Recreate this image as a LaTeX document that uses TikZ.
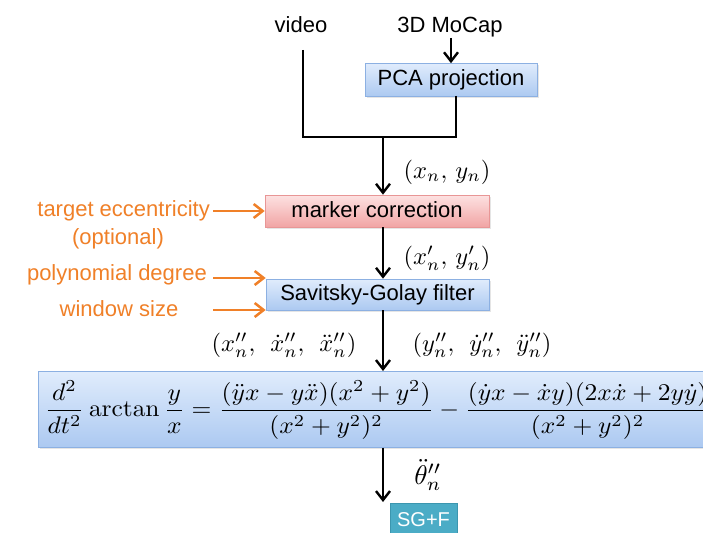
\documentclass[tikz,border=0pt]{standalone}
\usepackage{amsmath}
\usepackage[no-math]{fontspec}
\setmainfont{Liberation Sans}
\usetikzlibrary{arrows.meta,shadows}

\definecolor{orangeln}{RGB}{240,128,40}
\definecolor{tealout}{RGB}{75,172,198}

\tikzset{
  txt/.style={font=\fontsize{22}{26}\selectfont, inner sep=0pt},
  optxt/.style={txt, text=orangeln},
  mathlbl/.style={inner sep=0pt, scale=2.45},
  flow/.style={line width=2.7pt, -{Straight Barb[length=9pt,width=14pt,line width=2.4pt]}},
  plainline/.style={line width=2.7pt},
  oparrow/.style={line width=2.8pt, orangeln, -{Straight Barb[length=9pt,width=14pt,line width=2.5pt]}},
  boxtext/.style={font=\fontsize{22}{26}\selectfont, inner sep=0pt, text height=16pt, text depth=4pt},
  bluebox/.style={rectangle, draw={rgb,255:red,140;green,176;blue,226}, line width=0.6pt,
    top color={rgb,255:red,224;green,236;blue,252}, bottom color={rgb,255:red,172;green,201;blue,241},
    drop shadow={opacity=0.2, shadow xshift=1.5pt, shadow yshift=-1.5pt}, boxtext},
  pinkbox/.style={rectangle, draw={rgb,255:red,232;green,150;blue,150}, line width=0.6pt,
    top color={rgb,255:red,253;green,226;blue,226}, bottom color={rgb,255:red,241;green,164;blue,164},
    drop shadow={opacity=0.2, shadow xshift=1.5pt, shadow yshift=-1.5pt}, boxtext},
}

\begin{document}
\begin{tikzpicture}[x=1pt, y=-1pt]
  \clip (0,0) rectangle (703,532);
  \fill[white] (0,0) rectangle (703,532);

  % sources
  \node[txt, anchor=base] (video) at (301,33) {video};
  \node[txt, anchor=base] (mocap) at (450,33) {3D MoCap};

  % PCA stage
  \node[bluebox, minimum width=172pt, minimum height=33pt] (pca) at (451,80) {PCA projection};
  \coordinate (ms) at (451,38);
  \draw[flow] (ms) -- (pca.north);

  % merge of the two streams
  \coordinate (vt) at (303,50);
  \coordinate (pb) at (456,96);
  \coordinate (jn) at (383,137);
  \draw[plainline] (vt) |- (jn);
  \draw[plainline] (pb) |- (jn);

  % marker correction
  \node[pinkbox, minimum width=224pt, minimum height=32pt] (mc) at (377,211) {marker correction};
  \draw[flow] (jn) -- (jn |- mc.north);
  \node[mathlbl] (l1) at (447,172) {$(x_n,\, y_n)$};

  \node[optxt, anchor=east] (ecc) at (210,211) {target eccentricity};
  \node[optxt] (opt) at (118,239) {(optional)};
  \draw[oparrow] (ecc.east) ++(3,0) coordinate (ea) -- (ea -| mc.west);

  % Savitsky-Golay filter
  \node[bluebox, minimum width=223pt, minimum height=31pt] (sg) at (377.5,294.5) {Savitsky-Golay filter};
  \draw[flow] (jn |- mc.south) -- (jn |- sg.north);
  \node[mathlbl] (l2) at (447,258) {$(x'_n,\, y'_n)$};

  \node[optxt, anchor=east] (poly) at (207,275) {polynomial degree};
  \node[optxt] (win) at (119,309) {window size};
  \coordinate (pa) at (213,278);
  \coordinate (wa) at (213,310);
  \draw[oparrow] (pa) -- (pa -| sg.west);
  \draw[oparrow] (wa) -- (wa -| sg.west);

  % angular acceleration formula
  \node[bluebox, anchor=north west, minimum width=690pt, minimum height=76pt] (fm) at (38,371) {};
  \node[anchor=west, inner sep=0pt, xscale=2.55, yscale=2.4] (eq) at (44,410)
    {$\displaystyle \frac{d^2}{dt^2}\arctan\frac{y}{x} = \frac{(\ddot{y}x - y\ddot{x})(x^2+y^2)}{(x^2+y^2)^2} - \frac{(\dot{y}x - \dot{x}y)(2x\dot{x}+2y\dot{y})}{(x^2+y^2)^2}$};
  \draw[flow] (jn |- sg.south) -- (jn |- fm.north);
  \node[mathlbl] (l3) at (284,345) {$(x''_n,\;\, \dot{x}''_n,\;\, \ddot{x}''_n)$};
  \node[mathlbl] (l4) at (482,345) {$(y''_n,\;\, \dot{y}''_n,\;\, \ddot{y}''_n)$};

  % output
  \node[rectangle, fill=tealout, draw={rgb,255:red,60;green,150;blue,175}, anchor=north west,
        minimum width=67pt, minimum height=40pt, inner sep=0pt] (out) at (390,503) {};
  \node[font=\fontsize{20}{24}\selectfont, text=white, inner sep=0pt] (outlbl) at (423.5,520) {SG+F};
  \draw[flow] (jn |- fm.south) -- (383,502);
  \node[inner sep=0pt, scale=2.7] (l5) at (428,475) {$\ddot{\theta}''_n$};
\end{tikzpicture}
\end{document}
